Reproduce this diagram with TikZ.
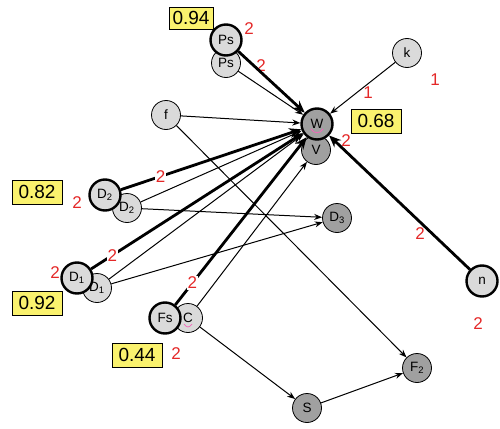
\documentclass[tikz,border=0pt]{standalone}
\usepackage{fontspec}
\setmainfont{Liberation Sans}
\usetikzlibrary{arrows.meta}

\definecolor{lightfill}{RGB}{218,218,218}
\definecolor{darkfill}{RGB}{160,160,160}
\definecolor{boxyellow}{RGB}{250,242,110}
\definecolor{labelred}{RGB}{228,40,40}

\begin{document}
\begin{tikzpicture}[x=1pt, y=-1pt,
    lightnode/.style={circle, draw, fill=lightfill, minimum size=29pt, inner sep=0pt, line width=0.8pt, font=\fontsize{13.5}{13.5}\selectfont},
    boldnode/.style={lightnode, line width=2.4pt, minimum size=31pt},
    darknode/.style={lightnode, fill=darkfill},
    probbox/.style={draw, fill=boxyellow, minimum width=50pt, minimum height=24pt, inner sep=0pt, font=\fontsize{19}{19}\selectfont},
    num/.style={text=labelred, inner sep=1pt, font=\fontsize{17}{17}\selectfont},
    gapnum/.style={num, fill=white},
    weak/.style={-{Stealth[length=8pt, width=6pt]}, line width=1pt},
    strong/.style={-{Stealth[length=12pt, width=10pt]}, line width=2.8pt}]
    \useasboundingbox (0,0) rectangle (500,428);

    % weights
    \node[num] at (249,29) {2};
    \node[num] at (261,66) {2};
    \node[num] at (77,203) {2};
    \node[num] at (55,273) {2};
    \node[num] at (176,354) {2};
    \node[num] at (346,141) {2};
    \node[num] at (435,80) {1};
    \node[num] at (368,93) {1};
    \node[num] at (420,234) {2};
    \node[num] at (478,324) {2};

    % probabilities
    \node[probbox, minimum width=44pt, minimum height=22pt] (pps) at (191,18) {0.94};
    \node[probbox] (pw) at (376,121) {0.68};
    \node[probbox] (pd2) at (37,192) {0.82};
    \node[probbox] (pd1) at (37,303) {0.92};
    \node[probbox] (pfs) at (137,355) {0.44};

    % states
    \node[lightnode] (ps2) at (226,63) {Ps};
    \node[boldnode] (ps) at (226,40) {Ps};
    \node[lightnode] (k) at (407,53) {k};
    \node[lightnode] (f) at (166,115) {f};
    \node[darknode] (v) at (316,150) {V};
    \node[darknode, line width=2.4pt, minimum size=31pt] (w) at (317,124) {W};
    \draw[magenta!60, line width=0.8pt] ([shift={(-6,5)}]w.center) .. controls ([shift={(-3,10)}]w.center) and ([shift={(3,10)}]w.center) .. ([shift={(6,5)}]w.center);
    \node[lightnode] (d2l) at (127,208) {D\textsubscript{2}};
    \node[boldnode] (d2) at (105,195) {D\textsubscript{2}};
    \node[lightnode] (d1l) at (97,288) {D\textsubscript{1}};
    \node[boldnode] (d1) at (77,278) {D\textsubscript{1}};
    \node[lightnode] (c) at (188,318) {C};
    \draw[magenta!60, line width=0.7pt] ([shift={(-4,6)}]c.center) .. controls ([shift={(-1,10)}]c.center) and ([shift={(1,10)}]c.center) .. ([shift={(4,6)}]c.center);
    \node[boldnode] (fs) at (165,318) {Fs};
    \node[darknode] (d3) at (337,218) {D\textsubscript{3}};
    \node[boldnode] (n) at (482,281) {n};
    \node[darknode] (s) at (307,408) {S};
    \node[darknode] (f2) at (417,368) {F\textsubscript{2}};

    % links
    \draw[strong] (ps) -- (w);
    \draw[weak] (ps2) -- (w);
    \draw[weak] (k) -- (w);
    \draw[weak] (f) -- (w);
    \draw[weak] (f) -- (f2);
    \draw[strong] (d2) -- node[gapnum, pos=0.22] {2} (w);
    \draw[weak] (d2l) -- (w);
    \draw[weak] (d2l) -- (d3);
    \draw[strong] (d1) -- node[gapnum, pos=0.1] {2} (w);
    \draw[weak] (d1l) -- (w);
    \draw[weak] (d1l) -- (d3);
    \draw[strong] (fs) -- node[gapnum, pos=0.13] {2} (w);
    \draw[weak] (c) -- (v);
    \draw[weak] (c) -- (s);
    \draw[weak] (s) -- (f2);
    \draw[strong] (n) -- (w);
\end{tikzpicture}
\end{document}
